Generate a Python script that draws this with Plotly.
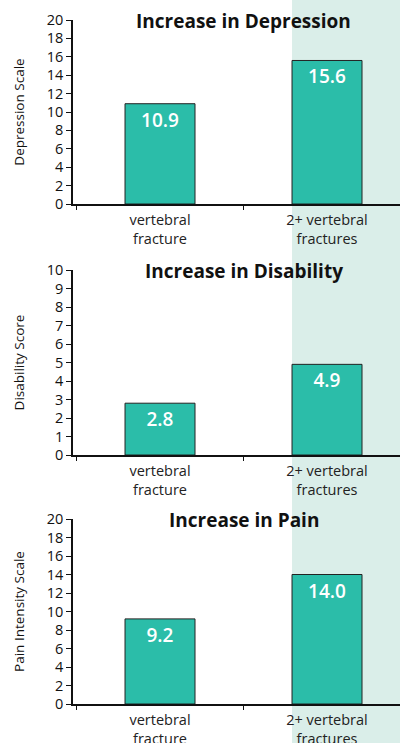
import plotly.graph_objects as go
from plotly.subplots import make_subplots

categories = ["vertebral<br>fracture", "2+ vertebral<br>fractures"]
depression = [10.9, 15.6]
disability = [2.8, 4.9]
pain = [9.2, 14.0]
titles = ["Increase in Depression", "Increase in Disability", "Increase in Pain"]
ytitles = ["Depression Scale", "Disability Score", "Pain Intensity Scale"]
ymax = [20, 10, 20]
dticks = [2, 1, 2]
series = [depression, disability, pain]

W, H = 400, 743
BAR = "#2bbda9"
SHADE = "#daeee9"
FONT = "Open Sans"
BAR_W = 0.419
XR = [-0.521, 1.437]

fig = make_subplots(rows=3, cols=1, shared_xaxes=False, vertical_spacing=0.05)

# pixel (top, bottom) of each plot area
pix = [(20, 204), (270, 455), (519, 704)]

for i, vals in enumerate(series):
    r = i + 1
    fig.add_trace(go.Bar(
        x=categories, y=vals,
        width=BAR_W,
        marker=dict(color=BAR, line=dict(color="#222222", width=1)),
        text=[f"{v:.1f}" for v in vals],
        textposition="inside", insidetextanchor="end",
        textfont=dict(family=FONT, size=19, color="white", weight=600),
        showlegend=False, cliponaxis=False, hoverinfo="skip",
    ), row=r, col=1)
    top, bot = pix[i]
    yax = "yaxis" if i == 0 else f"yaxis{r}"
    xax = "xaxis" if i == 0 else f"xaxis{r}"
    fig.layout[yax].update(
        domain=[1 - bot / H, 1 - top / H], automargin=False,
        range=[0, ymax[i]], dtick=dticks[i], tick0=0,
        showline=True, linecolor="#111", linewidth=1.5,
        ticks="outside", ticklen=5, tickcolor="#111", tickwidth=1.2,
        showgrid=False, zeroline=False,
        tickfont=dict(family=FONT, size=14.5, color="#111"),
        title=dict(text=ytitles[i], font=dict(family=FONT, size=13.5, color="#111"), standoff=19),
    )
    fig.layout[xax].update(
        range=XR, type="category", automargin=False,
        showline=True, linecolor="#111", linewidth=1.5,
        ticks="outside", tickson="boundaries", ticklen=4, tickcolor="#111", tickwidth=1,
        ticklabelstandoff=2,
        showgrid=False,
        tickfont=dict(family=FONT, size=14.5, color="#222"),
    )
    xref = "x" if i == 0 else f"x{r}"
    yref = "y" if i == 0 else f"y{r}"
    fig.add_annotation(
        x=0.5, y=ymax[i], xref=xref, yref=yref,
        text=f"<b>{titles[i]}</b>", showarrow=False,
        font=dict(family=FONT, size=19, color="#111"),
        xanchor="center", yanchor="middle", yshift=-1,
    )

fig.add_shape(type="rect", xref="x", yref="paper",
              x0=1 - BAR_W / 2, x1=XR[1] + 0.2, y0=-0.2, y1=1.2,
              fillcolor=SHADE, line=dict(width=0), layer="below")

fig.update_layout(
    width=W, height=H,
    margin=dict(l=73, r=0, t=0, b=0, autoexpand=False),
    paper_bgcolor="white", plot_bgcolor="rgba(0,0,0,0)",
    bargap=0.5,
)

fig.write_html("out.html", config={"displayModeBar": False},
               post_script="document.body.style.margin='0';document.body.style.overflow='hidden';")
